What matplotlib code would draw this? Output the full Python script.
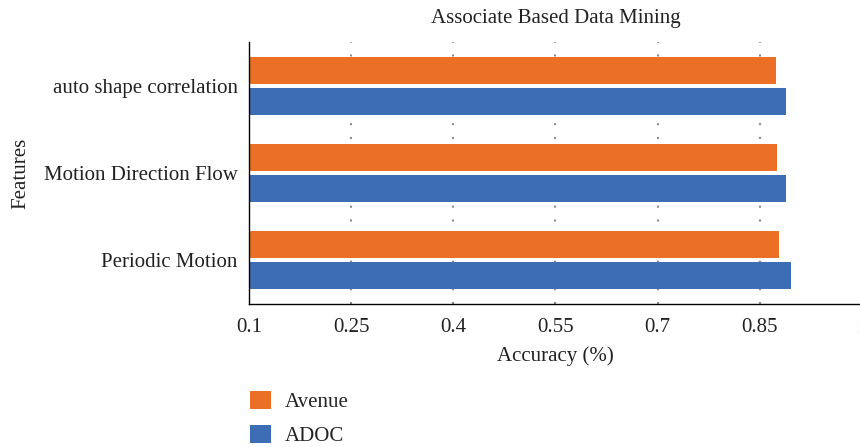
import matplotlib
matplotlib.use("Agg")
import matplotlib.pyplot as plt
import numpy as np

features = ["Periodic Motion", "Motion Direction Flow", "auto shape correlation"]
avenue = [0.879, 0.875, 0.874]
adoc = [0.896, 0.888, 0.888]
xticks = [0.1, 0.25, 0.4, 0.55, 0.7, 0.85, 1.0]
xtick_labels = ["0.1", "0.25", "0.4", "0.55", "0.7", "0.85", "1"]

plt.rcParams['font.family'] = ['Liberation Serif', 'DejaVu Serif']
fs = 15

orange = '#EB7026'
blue = '#3D6DB4'

fig = plt.figure(figsize=(8.6, 4.47), dpi=100)
ax = fig.add_axes([0.2895, 0.3199, 0.7127, 0.5861])

y = np.arange(len(features))
h = 0.31
off = 0.178
ax.barh(y + off, avenue, height=h, color=orange, label='Avenue', zorder=2)
ax.barh(y - off, adoc, height=h, color=blue, label='ADOC', zorder=2)

ax.set_xlim(0.1, 1.0)
ax.set_ylim(-0.5, 2.5)
ax.set_xticks(xticks)
ax.set_xticklabels(xtick_labels)
ax.set_yticks(y)
ax.set_yticklabels(features)
ax.tick_params(axis='both', length=0, labelsize=fs, labelcolor='#222222')
ax.tick_params(axis='x', pad=10)
ax.tick_params(axis='y', pad=8)

# sparse dotted gridlines, one dot every ~12 px
ax.xaxis.grid(True, color='#8c8c8c', linestyle=(0, (1, 5.6)), linewidth=1.5, zorder=1)
ax.set_axisbelow(True)

for s in ['top', 'right']:
    ax.spines[s].set_visible(False)
ax.spines['left'].set_linewidth(1.0)
ax.spines['bottom'].set_linewidth(1.0)

ax.set_title('Associate Based Data Mining', fontsize=fs, pad=14, color='#222222')
ax.set_xlabel('Accuracy (%)', fontsize=fs, labelpad=7, color='#222222')
ax.set_ylabel('Features', fontsize=fs, labelpad=10, color='#222222')

ax.legend(loc='upper left', bbox_to_anchor=(0.2907, 0.126), bbox_transform=fig.transFigure,
          frameon=False, fontsize=fs, handlelength=1.0, handleheight=1.0,
          handletextpad=0.67, labelspacing=0.6, borderaxespad=0, borderpad=0,
          labelcolor='#222222')

fig.savefig('out.png', dpi=100)
